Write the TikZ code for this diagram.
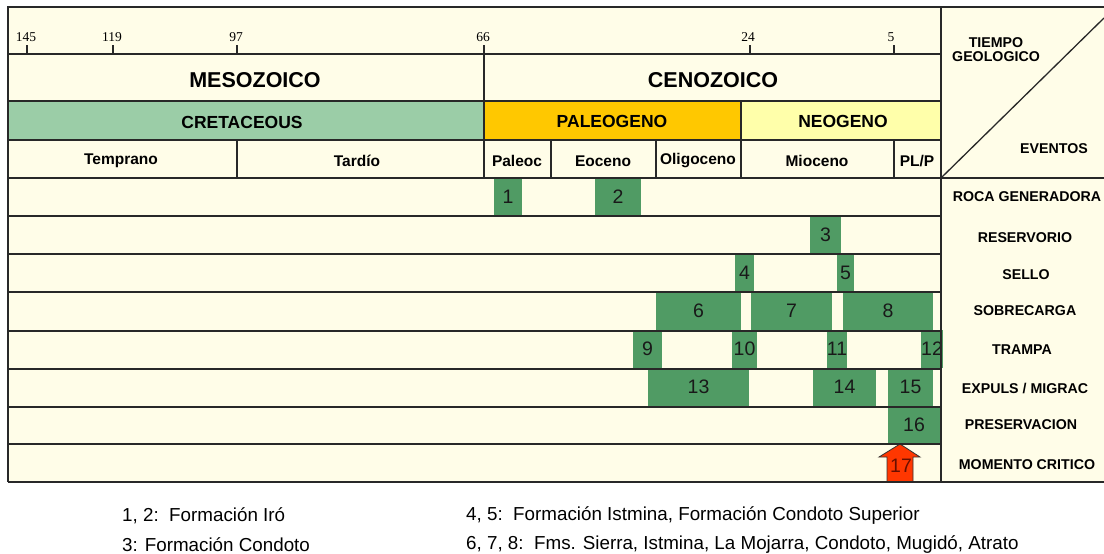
\documentclass[tikz,border=0pt]{standalone}
\usepackage{fontspec}
\setmainfont{Liberation Sans}
\newfontfamily\tickfont{Liberation Serif}
\definecolor{cream}{RGB}{255,253,232}
\definecolor{evgreen}{RGB}{80,155,100}
\definecolor{cretgreen}{RGB}{155,205,167}
\definecolor{paleo}{RGB}{255,200,0}
\definecolor{neo}{RGB}{255,255,170}
\definecolor{arrowred}{RGB}{255,55,0}
\definecolor{numred}{RGB}{105,15,0}
\definecolor{linecol}{RGB}{40,40,40}
\newcommand\ebox[5]{\node[evbox, minimum width={#3-#2}] (#1) at ({(#2+#3)/2},#4) {#5};}
\begin{document}
\begin{tikzpicture}[x=1pt,y=-1pt,
  evbox/.style={fill=evgreen, inner sep=0pt, minimum height=38pt, font=\fontsize{19.5}{21}\selectfont, text=black!90},
  grid/.style={draw=linecol, line width=1.3pt},
  frame/.style={draw=linecol, line width=2pt},
  era/.style={font=\fontsize{21.5}{24}\selectfont\bfseries},
  period/.style={font=\fontsize{17.5}{20}\selectfont\bfseries},
  epoch/.style={font=\fontsize{15.5}{17}\selectfont\bfseries},
  evlabel/.style={font=\fontsize{14.2}{16}\selectfont\bfseries},
  tick/.style={font=\tickfont\fontsize{13.5}{15}\selectfont, inner sep=0pt},
  legend/.style={font=\fontsize{18.8}{20}\selectfont, anchor=west, inner sep=0pt}]
\useasboundingbox (0,0) rectangle (1104,554);
% backgrounds
\fill[cream] (8,7) rectangle (1104,482);
\fill[cretgreen] (8,101) rectangle (484,140);
\fill[paleo] (484,101) rectangle (741,140);
\fill[neo] (741,101) rectangle (941,140);
% event boxes
\ebox{b1}{494}{522}{197}{1}
\ebox{b2}{595}{641}{197}{2}
\ebox{b3}{810}{841}{235}{3}
\ebox{b4}{735}{754}{273}{4}
\ebox{b5}{837}{854}{273}{5}
\ebox{b6}{656}{741}{311}{6}
\ebox{b7}{751}{832}{311}{7}
\ebox{b8}{843}{933}{311}{8}
\ebox{b9}{633}{662}{349}{9}
\ebox{b10}{732}{757}{349}{10}
\ebox{b11}{827}{847}{349}{11}
\ebox{b12}{923}{941}{349}{12}
\ebox{b13}{648}{749}{387}{13}
\ebox{b14}{813}{876}{387}{14}
\ebox{b15}{888}{933}{387}{15}
\ebox{b16}{888}{940}{425}{16}
% critical moment arrow
\draw[fill=arrowred, draw=black!80, line width=0.8pt, line join=miter]
  (887,482) -- (887,457) -- (879,457) -- (900,444) -- (920,457) -- (913,457) -- (913,482) -- cycle;
\node[font=\fontsize{19.5}{21}\selectfont, text=numred, inner sep=0pt] (n17) at (901,466) {17};
% grid lines
\draw[grid] (8,54) -- (941,54);
\draw[grid] (8,101) -- (941,101);
\draw[grid] (8,140) -- (941,140);
\foreach \yy in {216,254,292,331,369,407,444} \draw[grid] (8,\yy) -- (941,\yy);
\draw[grid] (8,178) -- (1104,178);
\draw[grid] (484,45) -- (484,178);
\draw[grid] (237,140) -- (237,178);
\draw[grid] (551,140) -- (551,178);
\draw[grid] (656,140) -- (656,178);
\draw[grid] (741,101) -- (741,178);
\draw[grid] (894,140) -- (894,178);
\draw[grid] (941,7) -- (941,482);
\draw[grid] (941,178) -- (1104,18);
% ticks
\foreach \xx in {27,113,237,750,894} \draw[grid] (\xx,45) -- (\xx,54);
\node[tick] (t145) at (26,37) {145};
\node[tick] (t119) at (112,37) {119};
\node[tick] (t97) at (236,37) {97};
\node[tick] (t66) at (483,37) {66};
\node[tick] (t24) at (748,37) {24};
\node[tick] (t5) at (891,37) {5};
% outer frame
\draw[frame] (8,482) -- (8,7) -- (1104,7);
\draw[frame] (8,482) -- (1104,482);
% header texts
\node[era] (meso) at (255,80) {MESOZOICO};
\node[era] (ceno) at (713,80) {CENOZOICO};
\node[period] (cret) at (242,122) {CRETACEOUS};
\node[period] (paleog) at (612,121) {PALEOGENO};
\node[period] (neog) at (843,121) {NEOGENO};
\node[epoch] (temp) at (121,161) {Temprano};
\node[epoch] (tard) at (357,161) {Tardío};
\node[epoch] (paleoc) at (517,161) {Paleoc};
\node[epoch] (eoc) at (603,161) {Eoceno};
\node[epoch] (olig) at (698,161) {Oligoceno};
\node[epoch] (mioc) at (817,161) {Mioceno};
\node[epoch] (plp) at (917,161) {PL/P};
\node[evlabel, align=center, inner sep=0pt] (tiempo) at (996,50) {TIEMPO\\[-2pt]GEOLOGICO};
\node[evlabel] (eventos) at (1054,149) {EVENTOS};
% event labels
\node[evlabel] (l1) at (1027,197) {ROCA GENERADORA};
\node[evlabel] (l2) at (1025,238) {RESERVORIO};
\node[evlabel] (l3) at (1026,275) {SELLO};
\node[evlabel] (l4) at (1025,311) {SOBRECARGA};
\node[evlabel] (l5) at (1022,350) {TRAMPA};
\node[evlabel] (l6) at (1025,388) {EXPULS / MIGRAC};
\node[evlabel] (l7) at (1021,425) {PRESERVACION};
\node[evlabel] (l8) at (1027,465) {MOMENTO CRITICO};
% legend
\node[legend] (lg1) at (122,516) {1, 2:\ \ Formación Iró};
\node[legend] (lg2) at (122,545) {3: Formación Condoto};
\node[legend] (lg3) at (466,516) {4, 5:\ \ Formación Istmina, Formación Condoto Superior};
\node[legend] (lg4) at (466,545) {6, 7, 8:\ \ Fms. Sierra, Istmina, La Mojarra, Condoto, Mugidó, Atrato};
\end{tikzpicture}
\end{document}
